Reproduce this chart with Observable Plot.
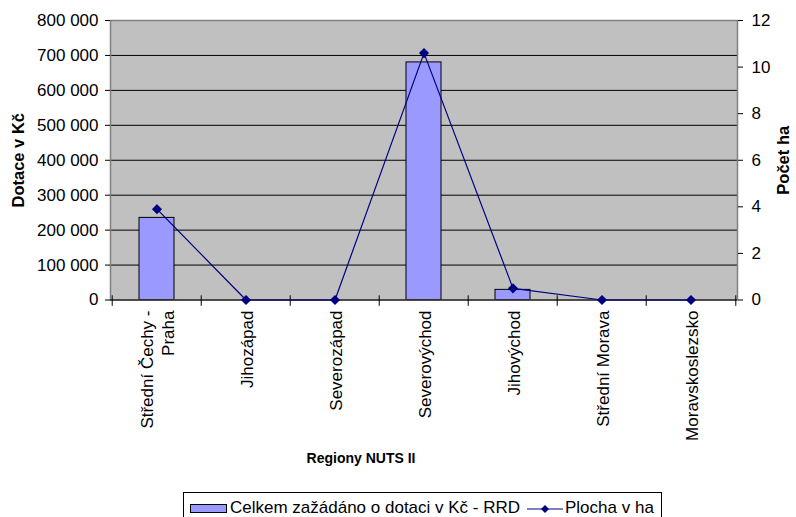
<!DOCTYPE html>
<html>
<head>
<meta charset="utf-8">
<script src="https://cdn.jsdelivr.net/npm/d3@7"></script>
<script src="https://cdn.jsdelivr.net/npm/@observablehq/plot@0.6"></script>
<style>
  html, body { margin: 0; padding: 0; background: #fff; }
  body { width: 796px; height: 517px; overflow: hidden; font-family: "Liberation Sans", Arial, sans-serif; }
  #legend {
    position: absolute; left: 183px; top: 492px; width: 479px; height: 40px;
    border: 1px solid #000; box-sizing: border-box; background: #fff;
    font-size: 17px; color: #000; white-space: nowrap;
  }
  #legend .item { position: absolute; top: 5px; line-height: 19px; }
</style>
</head>
<body>
<div id="chart"></div>
<div id="legend"></div>
<script>
const regions = ["Střední Čechy - Praha", "Jihozápad", "Severozápad", "Severovýchod", "Jihovýchod", "Střední Morava", "Moravskoslezsko"];
const dotace = [235000, 0, 0, 680000, 29000, 0, 0];
const plocha = [3.9, 0, 0, 10.6, 0.5, 0, 0];
const leftTicks = [0, 100000, 200000, 300000, 400000, 500000, 600000, 700000, 800000];
const rightTicks = [0, 2, 4, 6, 8, 10, 12];
const seriesNames = ["Celkem zažádáno o dotaci v Kč - RRD", "Plocha v ha"];

const k = 800000 / 12; // right axis (ha) mapped onto left axis (Kč)
const data = regions.map((r, i) => ({region: r, dotace: dotace[i], ha: plocha[i]}));
const fmt = v => d3.format(",")(v).replace(/,/g, " ");

const W = 796, H = 490, mL = 110, mR = 59, mT = 20, mB = 190.5;
const step = (W - mL - mR) / regions.length;
const font = "'Liberation Sans', Arial, sans-serif";

const chart = Plot.plot({
  width: W, height: H,
  marginLeft: mL, marginRight: mR, marginTop: mT, marginBottom: mB,
  style: {fontFamily: font, fontSize: "17px", color: "#000", background: "#fff"},
  x: {type: "band", domain: regions, paddingInner: 0, paddingOuter: 0, label: null},
  y: {domain: [0, 800000], label: null},
  marks: [
    Plot.frame({fill: "#c0c0c0", stroke: "none"}),
    Plot.ruleY(leftTicks.slice(1, -1), {stroke: "#000", strokeWidth: 1}),
    Plot.barY(data, {x: "region", y: "dotace", fill: "#9999ff", stroke: "#000", strokeWidth: 1, insetLeft: 27, insetRight: 27}),
    Plot.frame({stroke: "#808080", strokeWidth: 1.5}),
    Plot.ruleY([0], {stroke: "#000", strokeWidth: 1}),
    // category boundary ticks on the x axis
    Plot.ruleX(regions, {x: d => d, y1: -18000, y2: 12000, dx: -step / 2, stroke: "#000"}),
    Plot.ruleX(regions.slice(-1), {x: d => d, y1: -18000, y2: 12000, dx: step / 2, stroke: "#000"}),
    Plot.line(data, {x: "region", y: d => d.ha * k, stroke: "#000080", strokeWidth: 1.2}),
    Plot.dot(data, {x: "region", y: d => d.ha * k, symbol: "diamond2", r: 3.6, fill: "#000080", stroke: "#000080"}),
    Plot.axisY(leftTicks, {anchor: "left", tickSize: 5, tickPadding: 7, tickFormat: fmt, label: null, fontSize: 17}),
    Plot.axisY(rightTicks.map(t => t * k), {anchor: "right", tickSize: 5, tickPadding: 9, tickFormat: d => Math.round(d / k), label: null, fontSize: 17}),
    Plot.axisX({anchor: "bottom", tickSize: 0, tickPadding: 10.5, tickRotate: -90, lineHeight: 1.2,
      tickFormat: d => d.replace(" - ", " -\n"), label: null, fontSize: 17}),
    Plot.text(["Dotace v Kč"], {frameAnchor: "left", textAnchor: "middle", rotate: -90, dx: -92, fontWeight: "bold", fontSize: 16.5, fill: "#000"}),
    Plot.text(["Počet ha"], {frameAnchor: "right", textAnchor: "middle", rotate: -90, dx: 46, fontWeight: "bold", fontSize: 16.5, fill: "#000"}),
    Plot.text(["Regiony NUTS II"], {frameAnchor: "bottom", textAnchor: "middle", dx: -63, dy: 163, fontWeight: "bold", fontSize: 14, fill: "#000"})
  ]
});
document.getElementById("chart").appendChild(chart);

// legend
const legend = document.getElementById("legend");
legend.innerHTML = `
  <svg width="40" height="12" style="position:absolute;left:6px;top:10px"><rect x="0.5" y="1.5" width="36" height="8" fill="#9999ff" stroke="#000"/></svg>
  <span class="item" style="left:46px">${seriesNames[0]}</span>
  <svg width="40" height="14" style="position:absolute;left:343px;top:9px"><line x1="0" x2="36" y1="7" y2="7" stroke="#000080" stroke-width="1.2"/><path d="M18,3 L22,7 L18,11 L14,7 Z" fill="#000080"/></svg>
  <span class="item" style="left:381px">${seriesNames[1]}</span>`;
</script>
</body>
</html>
